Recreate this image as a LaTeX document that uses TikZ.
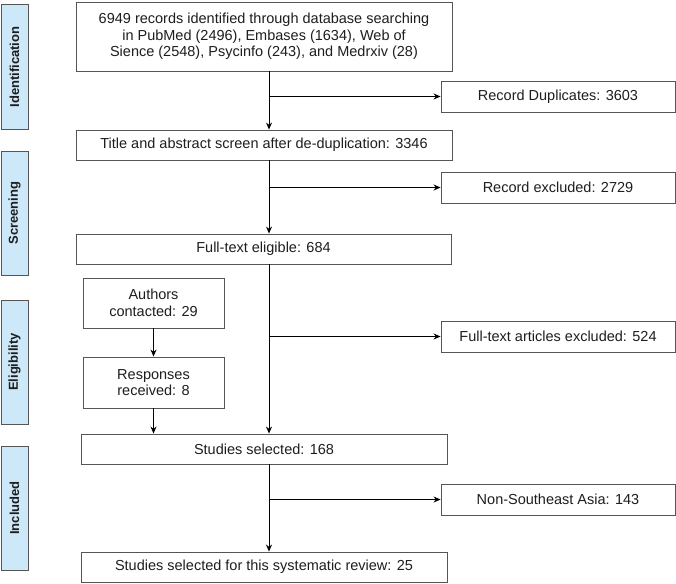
\documentclass[tikz,border=0pt]{standalone}
\usepackage{fontspec}
\setmainfont{Liberation Sans}
\usetikzlibrary{arrows.meta}
\definecolor{sidefill}{HTML}{CDE8F8}
\definecolor{boxline}{HTML}{555555}
\definecolor{txt}{HTML}{1E1E1E}
\tikzset{
  flowbox/.style={draw=boxline, line width=0.9pt, fill=white, inner sep=0pt,
    minimum height=30pt, align=center, text=txt, font=\fontsize{14.5}{16.7}\selectfont},
  sidebox/.style={draw=boxline, line width=1pt, fill=sidefill, inner sep=0pt,
    minimum width=124pt, minimum height=27pt, rotate=90, text=txt,
    font=\fontsize{13}{14}\selectfont\bfseries},
  arr/.style={line width=0.9pt, black, -{Stealth[length=7pt,width=6pt]}},
  ln/.style={line width=0.9pt, black}
}
\begin{document}
\begin{tikzpicture}[x=1pt,y=-1pt]
\useasboundingbox (0,0) rectangle (676,583);
% side labels
\node[sidebox] (sid) at (14.5,67) {Identification};
\node[sidebox] (sscr) at (14.5,213) {Screening};
\node[sidebox] (selig) at (14.5,362) {Eligibility};
\node[sidebox] (sinc) at (14.5,508) {Included};
% main boxes
\node[flowbox, minimum width=376pt, minimum height=69pt] (box1) at (264,36.5)
  {6949 records identified through database searching\\in PubMed (2496), Embases (1634), Web of\\Sience (2548), Psycinfo (243), and Medrxiv (28)};
\node[flowbox, minimum width=234pt, minimum height=31pt] (dup) at (558,96.5) {Record Duplicates: 3603};
\node[flowbox, minimum width=376pt] (title) at (264,145) {Title and abstract screen after de-duplication: 3346};
\node[flowbox, minimum width=234pt, minimum height=31pt] (excl) at (558,187.5) {Record excluded: 2729};
\node[flowbox, minimum width=375pt] (fte) at (263.5,249) {Full-text eligible: 684};
\node[flowbox, minimum width=141pt, minimum height=50pt] (auth) at (153.5,303) {Authors\\contacted: 29};
\node[flowbox, minimum width=141pt, minimum height=51pt] (resp) at (153.5,382.5) {Responses\\received: 8};
\node[flowbox, minimum width=234pt, minimum height=31pt] (ftexcl) at (558,336.5) {Full-text articles excluded: 524};
\node[flowbox, minimum width=366pt] (sel) at (264,449) {Studies selected: 168};
\node[flowbox, minimum width=234pt, minimum height=31pt] (nonse) at (558,499.5) {Non-Southeast Asia: 143};
\node[flowbox, minimum width=366pt] (final) at (264,567) {Studies selected for this systematic review: 25};
% main spine
\coordinate (mx) at (269,0);
\draw[arr] (box1.south -| mx) -- (title.north -| mx);
\draw[arr] (mx |- dup.west) -- (dup.west);
\draw[arr] (title.south -| mx) -- (fte.north -| mx);
\draw[arr] (mx |- excl.west) -- (excl.west);
\draw[arr] (fte.south -| mx) -- (sel.north -| mx);
\draw[arr] (mx |- ftexcl.west) -- (ftexcl.west);
\draw[arr] (sel.south -| mx) -- (final.north -| mx);
\draw[arr] (mx |- nonse.west) -- (nonse.west);
% authors branch
\draw[arr] (auth.south) -- (resp.north);
\draw[arr] (resp.south) -- (resp.south |- sel.north);
\end{tikzpicture}
\end{document}
